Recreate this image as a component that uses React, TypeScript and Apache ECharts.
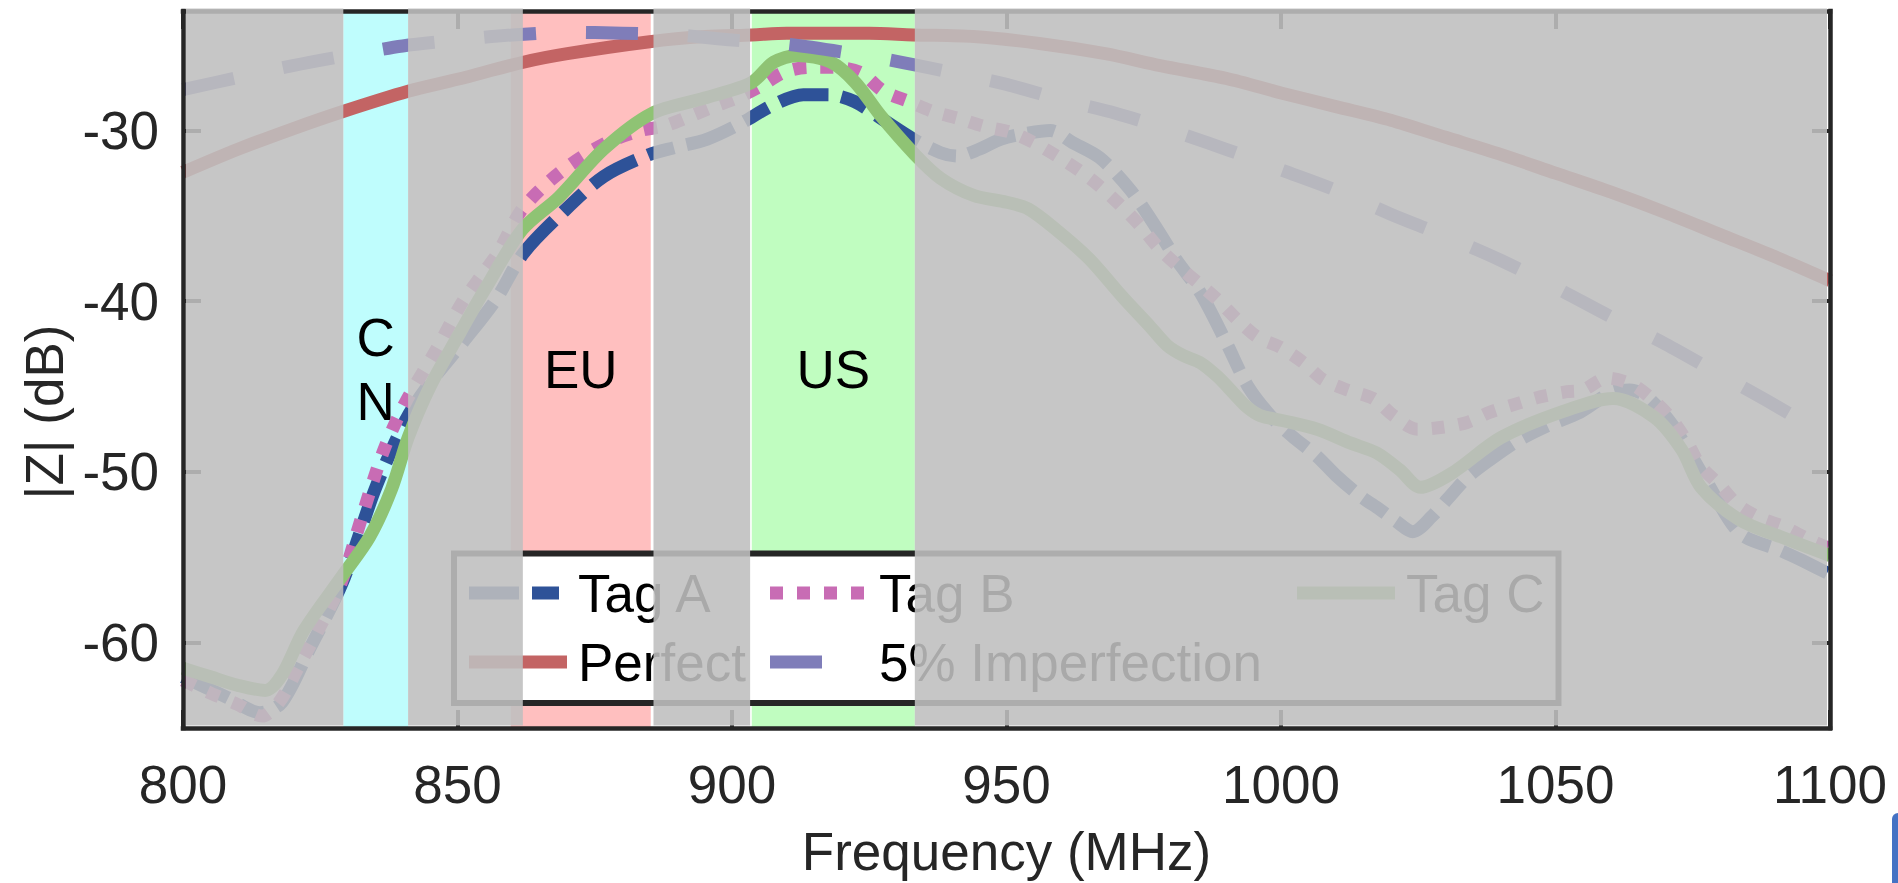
import React, { useEffect, useRef } from "react";
import * as echarts from "echarts";

const FONT = "'Liberation Sans', Arial, Helvetica, sans-serif";

// Axes
const xMin = 800;
const xMax = 1100;
const xStep = 50;
const yMin = -65;
const yMax = -23;
const yTickValues = [-60, -50, -40, -30];

// Highlighted regulatory bands (MHz)
const bandNames = ["C\nN", "EU", "US"];
const bandStarts = [829.2, 859.7, 903.6];
const bandEnds = [841.0, 885.2, 933.3];
const bandColors = ["#BFFDFD", "#FFBFBF", "#C0FDC0"];

// Gray shaded (de-emphasised) frequency ranges
const shadeStarts = [800, 841.0, 885.7, 933.3];
const shadeEnds = [829.2, 861.9, 903.3, 1100];

// Series names and colours
const seriesNames = ["Tag A", "Tag B", "Tag C", "Perfect", "5% Imperfection"];
const seriesColors = ["#2E5298", "#C86CB4", "#8FC374", "#C36464", "#7F7DB9"];

// Tag A
const tagAFreq = [800, 804, 808, 814, 818, 823, 829, 835, 840.5, 844.5, 851, 857, 862, 868.5, 876.6, 885, 889.5, 895.5, 901.5, 907.5, 913, 917.5, 922.3, 927.2, 933, 938, 941, 945, 949, 953, 958, 962, 967, 972.6, 977.5, 981, 985.3, 990, 994, 998.6, 1002, 1006.6, 1010, 1014.4, 1018, 1021, 1024, 1027.5, 1030.3, 1034, 1038, 1043, 1048.5, 1054.5, 1060.5, 1063.5, 1066.7, 1071.4, 1077.6, 1083.6, 1091, 1095, 1100];
const tagAVal = [-62.0, -62.6, -63.2, -64.1, -63.5, -60.4, -56.5, -51.0, -47.0, -45.0, -42.4, -39.9, -37.2, -35.0, -32.7, -31.4, -31.0, -30.5, -29.6, -28.5, -27.9, -27.9, -28.3, -29.3, -30.5, -31.3, -31.5, -31.1, -30.5, -30.2, -30.0, -30.7, -31.6, -33.5, -35.8, -37.6, -39.5, -42.4, -45.0, -46.9, -47.9, -49.1, -50.2, -51.4, -52.2, -52.9, -53.5, -52.6, -51.6, -50.3, -49.3, -48.2, -47.3, -46.5, -45.3, -45.2, -45.6, -47.3, -50.6, -53.6, -54.6, -55.2, -56.0];

// Tag B
const tagBFreq = [800, 805.3, 809.8, 814.4, 817.7, 820.9, 824.9, 828.8, 832.6, 836.6, 840.4, 846.2, 850.8, 854.8, 857.3, 861.8, 868.5, 876.6, 883.4, 887.6, 892.1, 896.7, 901.2, 905.2, 909.4, 914, 918.5, 923.4, 927.6, 932.2, 936.7, 941.3, 945.8, 950.7, 954.9, 959.2, 963.5, 967.1, 970.8, 974.4, 977.5, 981.1, 984.8, 988.4, 992.1, 995.7, 999.9, 1004.1, 1007.7, 1012.1, 1016.8, 1020.5, 1024.8, 1029, 1033.9, 1038.1, 1043, 1047.2, 1052.1, 1055, 1059.4, 1064.1, 1067.8, 1070.9, 1073.9, 1076.3, 1080, 1083.1, 1087.3, 1091.5, 1096.4, 1100];
const tagBVal = [-62.2, -63.0, -63.6, -64.3, -63.4, -61.5, -59.1, -56.5, -52.6, -48.7, -46.0, -42.8, -40.1, -38.3, -37.2, -34.6, -32.5, -30.8, -30.0, -29.75, -29.2, -28.6, -28.05, -27.4, -26.6, -26.3, -26.3, -26.6, -27.7, -28.3, -28.9, -29.3, -29.75, -30.1, -30.7, -31.5, -32.4, -33.3, -34.4, -35.6, -36.8, -37.9, -38.9, -39.9, -41.1, -42.1, -42.7, -43.6, -44.6, -45.2, -45.7, -46.7, -47.5, -47.4, -47.1, -46.5, -46.0, -45.6, -45.3, -45.2, -44.5, -44.9, -45.8, -46.8, -48.2, -49.6, -50.8, -51.9, -52.7, -53.2, -54.0, -54.5];

// Tag C
const tagCFreq = [800, 805, 810, 815, 818, 822, 829, 834, 838, 841, 845, 850, 855, 861.8, 868.5, 876.6, 885.4, 895, 903.5, 907.6, 911.9, 918, 922.5, 927, 933.3, 938, 944, 950, 954, 959, 965, 971, 976.2, 979.3, 982.3, 985.3, 988.4, 991.4, 993.8, 996.2, 1000.4, 1006.6, 1012.6, 1017.5, 1021.7, 1025.4, 1031, 1040, 1051, 1060.5, 1068, 1073, 1076.5, 1083.5, 1091, 1100];
const tagCVal = [-61.5, -62.0, -62.5, -62.8, -61.9, -59.3, -56.1, -53.8, -51.0, -48.0, -45.0, -42.1, -39.3, -35.8, -33.9, -31.1, -29.0, -28.1, -27.2, -26.0, -25.6, -26.0, -27.2, -29.1, -31.4, -32.8, -33.8, -34.2, -34.6, -35.8, -37.5, -39.7, -41.5, -42.6, -43.2, -43.6, -44.4, -45.4, -46.2, -46.7, -47.0, -47.5, -48.3, -48.9, -49.9, -50.9, -50.1, -48.0, -46.5, -45.7, -46.8, -48.7, -50.9, -52.8, -53.8, -54.9];

// Perfect
const perfectFreq = [800, 810, 820, 829, 841, 850, 862, 870, 885, 895, 903.6, 910, 918, 925, 933, 944, 956, 968, 978, 990, 1000, 1010, 1020, 1030, 1040, 1050, 1060, 1070, 1080, 1090, 1100];
const perfectVal = [-32.45, -31.1, -29.9, -28.9, -27.7, -27.0, -26.0, -25.5, -24.8, -24.5, -24.4, -24.3, -24.3, -24.3, -24.4, -24.5, -24.9, -25.5, -26.2, -26.95, -27.8, -28.6, -29.4, -30.4, -31.4, -32.5, -33.6, -34.8, -36.1, -37.4, -38.8];

// 5% Imperfection
const imperfFreq = [800, 810, 820, 830, 840, 850, 860, 870, 880, 890, 900, 910, 920, 930, 940, 950, 960, 970, 980, 990, 1000, 1010, 1020, 1030, 1040, 1050, 1060, 1070, 1080, 1090, 1100];
const imperfVal = [-27.6, -26.9, -26.2, -25.6, -25.05, -24.7, -24.4, -24.25, -24.3, -24.4, -24.7, -24.95, -25.4, -25.95, -26.6, -27.3, -28.2, -29.0, -30.0, -31.1, -32.3, -33.5, -34.9, -36.2, -37.6, -39.2, -40.9, -42.5, -44.3, -46.1, -48.0];

const seriesFreqs = [tagAFreq, tagBFreq, tagCFreq, perfectFreq, imperfFreq];
const seriesVals = [tagAVal, tagBVal, tagCVal, perfectVal, imperfVal];
const seriesDash: (number[] | "solid")[] = [[50, 13, 27, 13], [13, 14], "solid", "solid", [52, 50]];

const LINE_W = 13;
const AXIS_COLOR = "#262626";

function axisCommon() {
  return {
    axisLine: { show: true, onZero: false, lineStyle: { color: AXIS_COLOR, width: 4.5, cap: "square" } },
    splitLine: { show: false },
    z: 3,
  };
}

const plainNumber = (v: number) => String(v);

function buildOption() {
  const series: any[] = [];
  // Bands (below curves)
  series.push({
    name: "bands",
    type: "line",
    data: [],
    z: 1,
    silent: true,
    markArea: {
      silent: true,
      data: bandNames.map((n, i) => [
        {
          xAxis: bandStarts[i],
          name: n,
          itemStyle: { color: bandColors[i] },
        },
        { xAxis: bandEnds[i] },
      ]),
      label: {
        show: true,
        position: "inside",
        color: "#000",
        fontSize: 53,
        fontFamily: FONT,
        lineHeight: 64,
        align: "center",
        verticalAlign: "middle",
      },
    },
  });
  seriesNames.forEach((name, i) => {
    series.push({
      name,
      type: "line",
      data: seriesFreqs[i].map((f, k) => [f, seriesVals[i][k]]),
      showSymbol: false,
      smooth: 0.3,
      z: 2,
      lineStyle: {
        color: seriesColors[i],
        width: LINE_W,
        type: seriesDash[i],
        cap: "butt",
        join: "round",
      },
      itemStyle: { color: seriesColors[i] },
    });
  });

  return {
    animation: false,
    backgroundColor: "#ffffff",
    grid: { left: 183, right: 68, top: 11, bottom: 155, containLabel: false },
    xAxis: [
      {
        type: "value",
        min: xMin,
        max: xMax,
        interval: xStep,
        position: "bottom",
        ...axisCommon(),
        axisTick: { show: true, inside: true, length: 18, lineStyle: { color: AXIS_COLOR, width: 4 } },
        axisLabel: { show: true, margin: 30, fontSize: 53, color: AXIS_COLOR, fontFamily: FONT, formatter: plainNumber },
        name: "Frequency (MHz)",
        nameLocation: "middle",
        nameGap: 97,
        nameTextStyle: { fontSize: 53, color: AXIS_COLOR, fontFamily: FONT },
      },
      {
        type: "value",
        min: xMin,
        max: xMax,
        interval: xStep,
        position: "top",
        ...axisCommon(),
        axisTick: { show: true, inside: true, length: 18, lineStyle: { color: AXIS_COLOR, width: 4 } },
        axisLabel: { show: false },
      },
    ],
    yAxis: [
      {
        type: "value",
        min: yMin,
        max: yMax,
        position: "left",
        ...axisCommon(),
        axisTick: { show: true, inside: true, length: 18, customValues: yTickValues, lineStyle: { color: AXIS_COLOR, width: 4 } },
        axisLabel: { show: true, margin: 24, customValues: yTickValues, fontSize: 53, color: AXIS_COLOR, fontFamily: FONT, formatter: plainNumber },
        name: "|Z| (dB)",
        nameLocation: "middle",
        nameGap: 112,
        nameTextStyle: { fontSize: 53, color: AXIS_COLOR, fontFamily: FONT, padding: [0, 85, 0, 0] },
      },
      {
        type: "value",
        min: yMin,
        max: yMax,
        position: "right",
        ...axisCommon(),
        axisTick: { show: true, inside: true, length: 18, customValues: yTickValues, lineStyle: { color: AXIS_COLOR, width: 4 } },
        axisLabel: { show: false },
      },
    ],
    series,
  };
}

// Legend layout (pixels): icon start x, row y
const legendIconX = [469, 770, 1297, 469, 770];
const legendRowY = [593, 593, 593, 662, 662];
const LEGEND_ICON_LEN = 98;

function legendElements() {
  const els: any[] = [
    {
      type: "rect",
      z: 5,
      silent: true,
      shape: { x: 454, y: 553.5, width: 1104.5, height: 149.5 },
      style: { fill: "#ffffff", stroke: AXIS_COLOR, lineWidth: 6 },
    },
  ];
  seriesNames.forEach((name, i) => {
    const x = legendIconX[i];
    const y = legendRowY[i];
    const dash = seriesDash[i];
    els.push({
      type: "line",
      z: 6,
      silent: true,
      shape: { x1: x, y1: y, x2: x + LEGEND_ICON_LEN, y2: y },
      style: {
        stroke: seriesColors[i],
        lineWidth: LINE_W,
        lineCap: "butt",
        lineDash: dash === "solid" ? null : dash,
      },
    });
    els.push({
      type: "text",
      z: 6,
      silent: true,
      x: x + LEGEND_ICON_LEN + 11,
      y: y,
      style: {
        text: name,
        fill: "#000000",
        fontSize: 53,
        fontFamily: FONT,
        align: "left",
        verticalAlign: "middle",
      },
    });
  });
  return els;
}

export default function App() {
  const ref = useRef<HTMLDivElement>(null);
  useEffect(() => {
    const el = ref.current;
    if (!el) return;
    const chart = echarts.init(el, undefined, { renderer: "svg" });
    chart.setOption(buildOption() as any);

    const toPx = (f: number, v: number) =>
      chart.convertToPixel({ xAxisIndex: 0, yAxisIndex: 0 }, [f, v]) as number[];
    const [gl, gt] = toPx(xMin, yMax);
    const [gr, gb] = toPx(xMax, yMin);
    const last = shadeStarts.length - 1;
    const shades = shadeStarts.map((s, i) => {
      let x0 = toPx(s, yMin)[0];
      let x1 = toPx(shadeEnds[i], yMin)[0];
      if (i === 0) x0 = gl + 3;
      if (i === last) x1 = gr - 3;
      const y0 = gt - 2.5;
      const y1 = gb - 2.5;
      return {
        type: "rect",
        z: 10,
        silent: true,
        shape: { x: x0, y: y0, width: x1 - x0, height: y1 - y0 },
        style: { fill: "rgba(191,191,191,0.886)" },
      };
    });
    const artifact = {
      type: "rect",
      z: 0,
      silent: true,
      shape: { x: 1892, y: 813, width: 20, height: 90, r: 6 },
      style: { fill: "#4472C4" },
    };
    chart.setOption({ graphic: [...legendElements(), ...shades, artifact] } as any);

    return () => {
      chart.dispose();
    };
  }, []);
  return (
    <div
      ref={ref}
      style={{ position: "fixed", left: 0, top: 0, width: 1898, height: 883, background: "#ffffff" }}
    />
  );
}
